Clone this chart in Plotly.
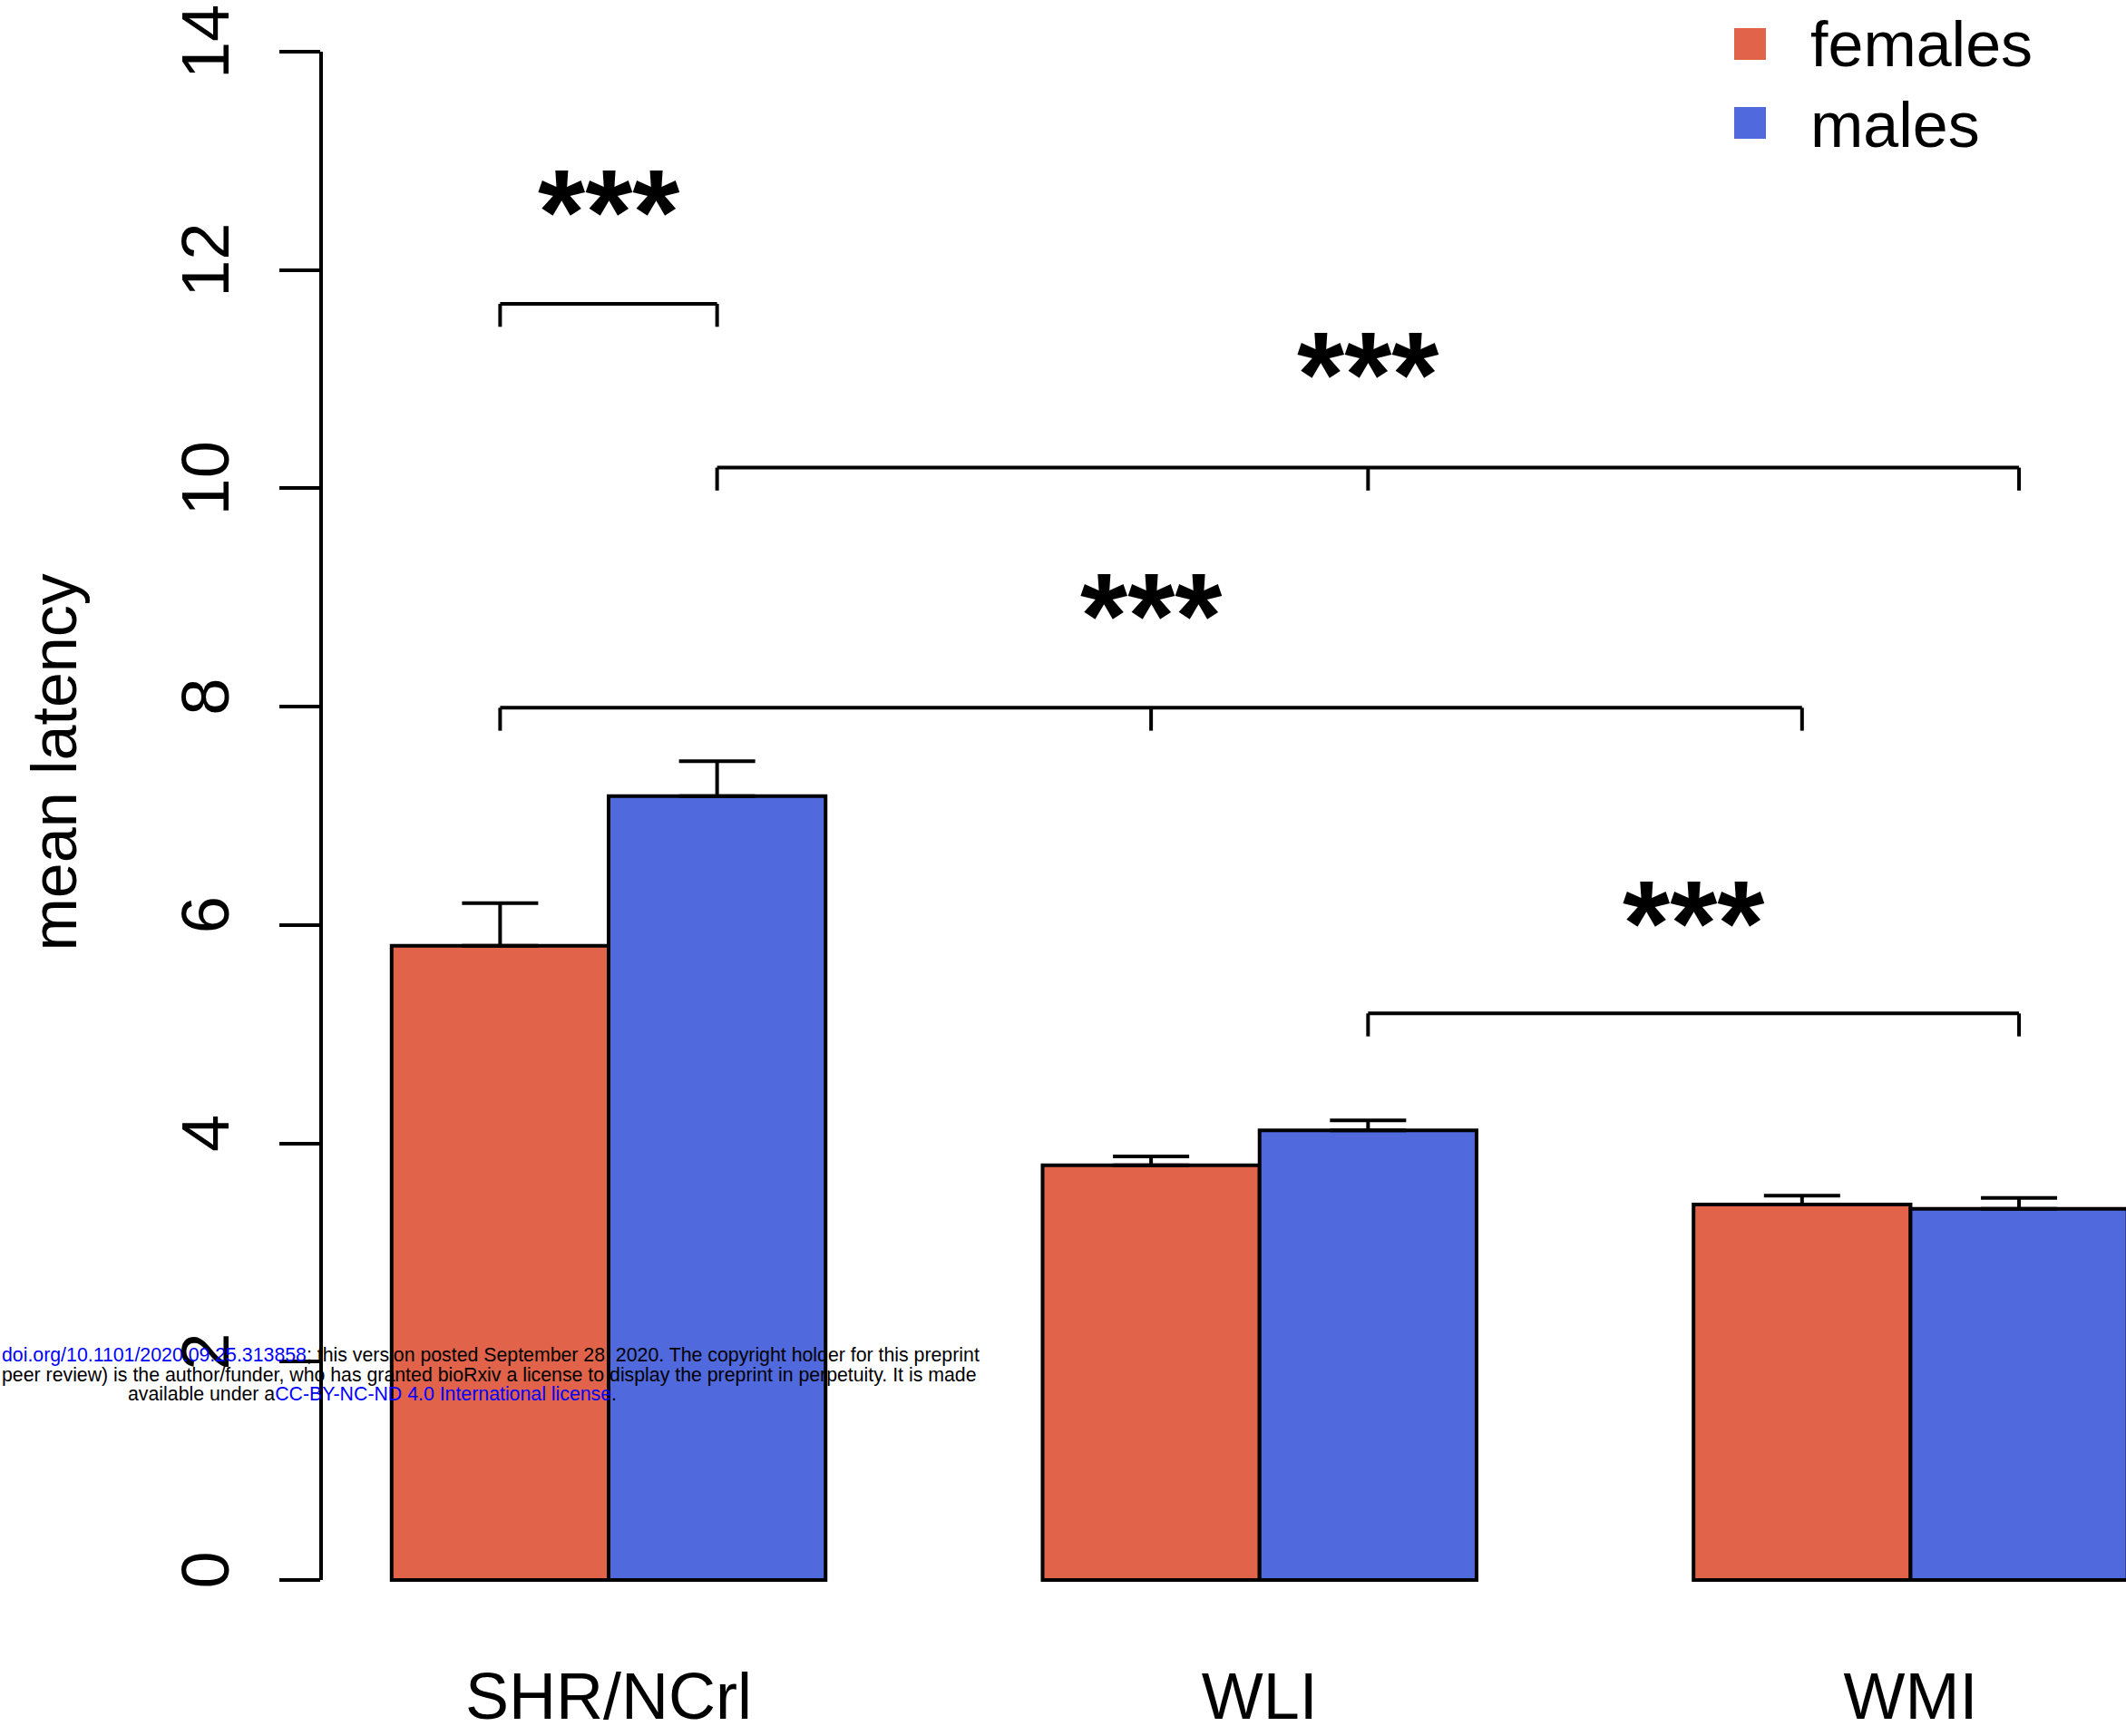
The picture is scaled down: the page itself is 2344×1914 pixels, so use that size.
import plotly.graph_objects as go

# ---------------- data ----------------
groups = ["SHR/NCrl", "WLI", "WMI"]
series_names = ["females", "males"]
female_mean = [5.81, 3.80, 3.44]
male_mean = [7.18, 4.12, 3.40]
female_sem = [0.39, 0.08, 0.08]
male_sem = [0.32, 0.09, 0.10]
y_ticks = [0, 2, 4, 6, 8, 10, 12, 14]
y_title = "mean latency"

# significance brackets: which bars each bracket connects
comparisons = [
    [("SHR/NCrl", "females"), ("SHR/NCrl", "males")],
    [("SHR/NCrl", "males"), ("WLI", "males"), ("WMI", "males")],
    [("SHR/NCrl", "females"), ("WLI", "females"), ("WMI", "females")],
    [("WLI", "males"), ("WMI", "males")],
]
comparison_labels = ["***", "***", "***", "***"]
bracket_levels = [11.69, 10.19, 7.99, 5.19]
label_levels = [12.70, 11.21, 9.00, 6.19]

watermark_lines = [
    [("doi.org/10.1101/2020.09.25.313858", "blue"),
     ("; this version posted September 28, 2020. The copyright holder for this preprint", "black")],
    [("peer review) is the author/funder, who has granted bioRxiv a license to display the preprint in perpetuity. It is made", "black")],
    [("available under a", "black"), ("CC-BY-NC-ND 4.0 International license", "blue"), (".", "black")],
]

# ---------------- style ----------------
FIG_W, FIG_H = 2344, 1914
ML, MT, MB, MR = 354, 57, 168, 0
PW, PH = FIG_W - ML - MR, FIG_H - MT - MB
FONT = "Liberation Sans, Arial, Helvetica, sans-serif"
COLORS = {"females": "#E0634A", "males": "#5069DC"}
BARGAP = 1 / 3
Y_RANGE = [-0.033, 14]
X_RANGE = [-0.4417, 2.331]
TICK_DEPTH = 0.21


def px_x(p):
    return (p - ML) / PW


def px_y(p):
    return (FIG_H - MB - p) / PH


bar_w = (1 - BARGAP) / len(series_names)
offsets = {s: (i - (len(series_names) - 1) / 2) * bar_w for i, s in enumerate(series_names)}


def bar_x(group, series):
    return groups.index(group) + offsets[series]


fig = go.Figure()
means = {"females": female_mean, "males": male_mean}
sems = {"females": female_sem, "males": male_sem}
for s in series_names:
    fig.add_trace(go.Bar(
        name=s, x=groups, y=means[s],
        marker=dict(color=COLORS[s], line=dict(color="black", width=4)),
        error_y=dict(type="data", symmetric=False, array=sems[s],
                     arrayminus=[0] * len(groups), color="black",
                     thickness=4, width=42),
        showlegend=False,
    ))

shapes = []
annotations = []

# y axis line (0..14 only)
shapes.append(dict(type="line", xref="paper", yref="y", x0=0, x1=0,
                   y0=y_ticks[0], y1=y_ticks[-1],
                   line=dict(color="black", width=4)))

# brackets
for comp, lab, lvl, llvl in zip(comparisons, comparison_labels, bracket_levels, label_levels):
    xs = [bar_x(g, s) for g, s in comp]
    shapes.append(dict(type="line", xref="x", yref="y", x0=min(xs), x1=max(xs),
                       y0=lvl, y1=lvl, line=dict(color="black", width=4)))
    for xv in xs:
        shapes.append(dict(type="line", xref="x", yref="y", x0=xv, x1=xv,
                           y0=lvl, y1=lvl - TICK_DEPTH,
                           line=dict(color="black", width=4)))
    annotations.append(dict(x=(min(xs) + max(xs)) / 2, y=llvl, xref="x", yref="y",
                            text=lab, showarrow=False, yshift=-20,
                            font=dict(family=FONT, size=134, color="black", weight="bold"),
                            xanchor="center", yanchor="middle"))

# y title
annotations.append(dict(x=px_x(60), y=7.49, xref="paper", yref="y", text=y_title,
                        textangle=-90, showarrow=False, xanchor="center", yanchor="middle",
                        font=dict(family=FONT, size=70, color="black")))

# manual legend
legend_rows = [(48.5, (31, 66)), (137.5, (118, 153))]
for s, (ty, (sy0, sy1)) in zip(series_names, legend_rows):
    shapes.append(dict(type="rect", xref="paper", yref="paper",
                       x0=px_x(1912), x1=px_x(1947), y0=px_y(sy1), y1=px_y(sy0),
                       fillcolor=COLORS[s], line=dict(width=0)))
    annotations.append(dict(x=px_x(1994), y=px_y(ty), xref="paper", yref="paper",
                            text=s, showarrow=False, xanchor="left", yanchor="middle",
                            font=dict(family=FONT, size=70, color="black")))

# watermark text
wm_pos = [(0, 1494, "left"), (0, 1516, "left"), (410, 1537, "center")]
for line, (wx, wy, anc) in zip(watermark_lines, wm_pos):
    txt = "".join(f'<span style="color:{c}">{t}</span>' for t, c in line)
    annotations.append(dict(x=px_x(wx), y=px_y(wy), xref="paper", yref="paper",
                            text=txt, showarrow=False, xanchor=anc, yanchor="middle",
                            font=dict(family=FONT, size=21.3, color="black")))

fig.update_layout(
    width=FIG_W, height=FIG_H,
    margin=dict(l=ML, r=MR, t=MT, b=MB, pad=0, autoexpand=False),
    paper_bgcolor="white", plot_bgcolor="white",
    barmode="group", bargap=BARGAP, bargroupgap=0,
    showlegend=False,
    shapes=shapes, annotations=annotations,
    xaxis=dict(range=X_RANGE, showline=False, showgrid=False, zeroline=False,
               automargin=False,
               ticks="", tickfont=dict(family=FONT, size=72, color="black"),
               ticklabelstandoff=76),
    yaxis=dict(range=Y_RANGE, tickvals=y_ticks, showline=False, showgrid=False,
               zeroline=False, automargin=False, ticks="outside", ticklen=45, tickwidth=4,
               tickcolor="black", tickangle=-90, ticklabelstandoff=26,
               tickfont=dict(family=FONT, size=74, color="black")),
)

fig.write_html("out.html",
               config={"displayModeBar": False},
               post_script="document.body.style.margin='0';document.body.style.overflow='hidden';")
